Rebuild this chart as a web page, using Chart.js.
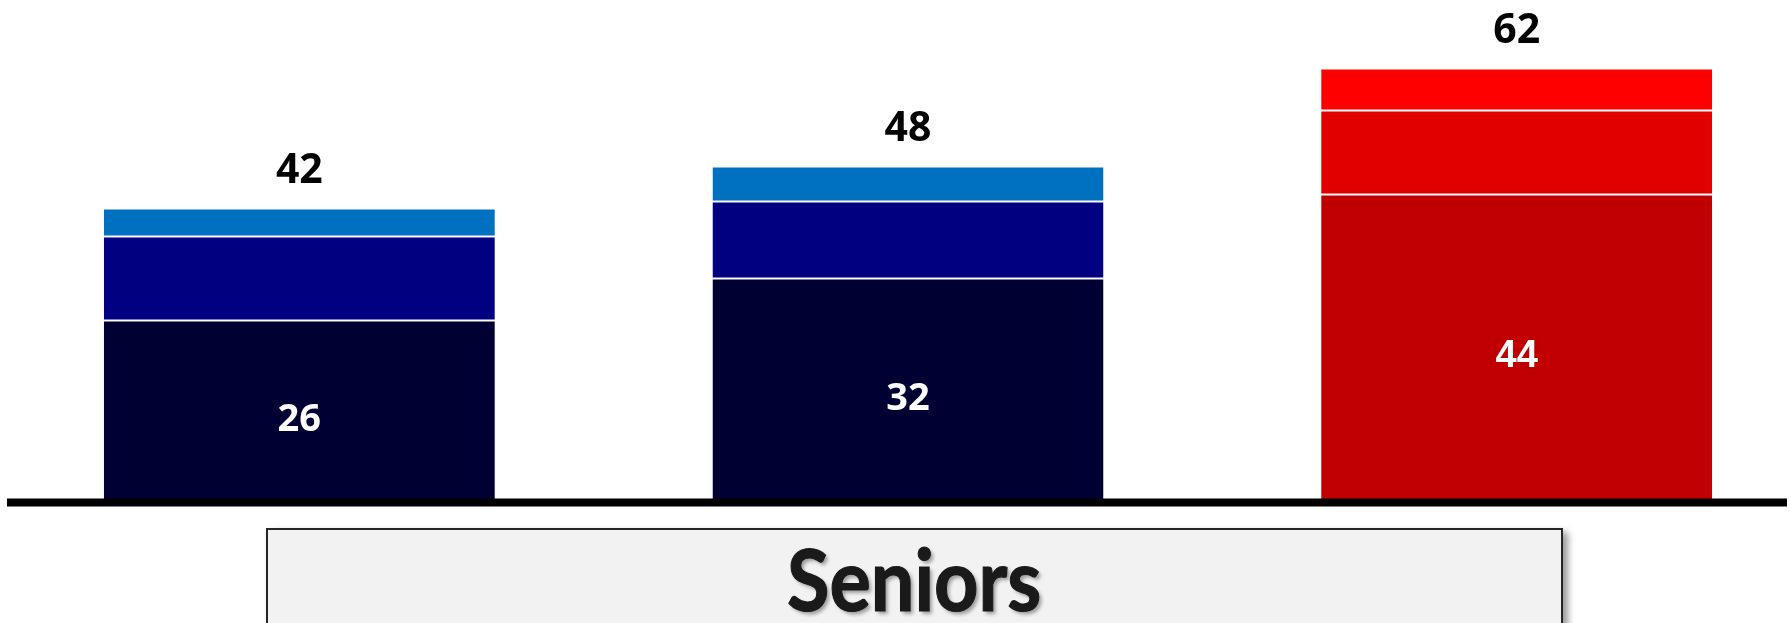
<!DOCTYPE html>
<html>
    <head>
        <title>Seniors</title>
        <meta charset="utf-8">
        <script src="https://cdn.jsdelivr.net/npm/chart.js@4/dist/chart.umd.min.js"></script>
        <style>
            html, body {
                margin: 0;
                padding: 0;
                background: #ffffff;
                overflow: hidden;
                width: 1790px;
                height: 623px;
            }
            .chart-container {
                position: absolute;
                left: -5px;
                top: 0;
                width: 1826px;
                height: 623px;
            }
            .group-box {
                position: absolute;
                left: 266px;
                top: 528px;
                width: 1297px;
                height: 130px;
                box-sizing: border-box;
                background: #f2f2f2;
                border: 2px solid #262626;
                box-shadow: 5px 4px 7px rgba(0, 0, 0, 0.4);
            }
            .group-title {
                position: absolute;
                left: 266px;
                top: 535px;
                width: 1297px;
                text-align: center;
                font-family: Lato, sans-serif;
                font-weight: bold;
                font-size: 86px;
                line-height: 86px;
                color: #1a1a1a;
                -webkit-text-stroke: 1.2px #1a1a1a;
                text-shadow: 3px 3px 4px rgba(0, 0, 0, 0.35);
            }
            .group-title span {
                display: inline-block;
                transform: scaleX(0.9);
            }
        </style>
    </head>
    <body>
        <div class="chart-container">
            <canvas id="myChart"></canvas>
        </div>
        <div class="group-box"></div>
        <div class="group-title"><span>Seniors</span></div>
        <script>
            // three bars, each stacked from three parts
            const categories = ['', '', ''];
            const bottomValues = [26, 32, 44];
            const middleValues = [12, 11, 12];
            const topValues = [4, 5, 6];

            const bottomColors = ['#000033', '#000033', '#C00000'];
            const middleColors = ['#000080', '#000080', '#E00000'];
            const topColors = ['#0070C0', '#0070C0', '#FF0000'];

            // thick black base line under the bars
            const baseLine = {
                id: 'baseLine',
                afterDatasetsDraw(chart) {
                    const ctx = chart.ctx;
                    const y = chart.scales.y.getPixelForValue(0);
                    ctx.save();
                    ctx.fillStyle = '#000000';
                    ctx.fillRect(12, y - 4, 1780, 8);
                    ctx.restore();
                }
            };

            // value inside the bottom part, total above the bar
            const barLabels = {
                id: 'barLabels',
                afterDatasetsDraw(chart) {
                    const ctx = chart.ctx;
                    const bottomMeta = chart.getDatasetMeta(0);
                    const topMeta = chart.getDatasetMeta(2);
                    ctx.save();
                    ctx.textAlign = 'center';
                    ctx.textBaseline = 'middle';
                    bottomMeta.data.forEach((bar, i) => {
                        ctx.fillStyle = '#ffffff';
                        ctx.font = i == 2 ? 'bold 38px "Liberation Sans"' : 'bold 38px "Open Sans"';
                        ctx.fillText(bottomValues[i], bar.x, (bar.y + bar.base) / 2 + 8.5);
                    });
                    topMeta.data.forEach((bar, i) => {
                        const total = bottomValues[i] + middleValues[i] + topValues[i];
                        ctx.fillStyle = '#000000';
                        ctx.font = 'bold 41px "Open Sans"';
                        ctx.fillText(total, bar.x, bar.y - 37);
                    });
                    ctx.restore();
                }
            };

            const border = { top: 1, bottom: 1, left: 0, right: 0 };

            const ctx = document.getElementById('myChart').getContext('2d');
            const chart = new Chart(ctx, {
                type: 'bar',
                data: {
                    labels: categories,
                    datasets: [{
                        data: bottomValues,
                        backgroundColor: bottomColors,
                        borderColor: '#ffffff',
                        borderWidth: border,
                        borderSkipped: false
                    }, {
                        data: middleValues,
                        backgroundColor: middleColors,
                        borderColor: '#ffffff',
                        borderWidth: border,
                        borderSkipped: false
                    }, {
                        data: topValues,
                        backgroundColor: topColors,
                        borderColor: '#ffffff',
                        borderWidth: border,
                        borderSkipped: false
                    }]
                },
                options: {
                    responsive: true,
                    maintainAspectRatio: false,
                    animation: false,
                    layout: {
                        padding: { top: 12.5, bottom: 120.5, left: 0, right: 0 }
                    },
                    datasets: {
                        bar: {
                            categoryPercentage: 1,
                            barPercentage: 0.6424
                        }
                    },
                    plugins: {
                        legend: { display: false },
                        tooltip: { enabled: false }
                    },
                    scales: {
                        x: {
                            stacked: true,
                            display: false
                        },
                        y: {
                            stacked: true,
                            display: false,
                            min: 0,
                            max: 70
                        }
                    }
                },
                plugins: [baseLine, barLabels]
            });
        </script>
    </body>
</html>
